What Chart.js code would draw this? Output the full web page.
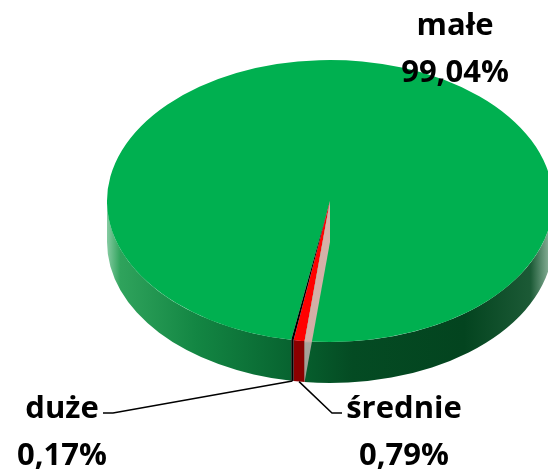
<!DOCTYPE html>
<html>
<head>
<meta charset="utf-8">
<script src="https://cdn.jsdelivr.net/npm/chart.js@4/dist/chart.umd.min.js"></script>
<style>
html, body { margin: 0; padding: 0; background: #fff; }
#wrap { width: 548px; height: 471px; position: relative; }
</style>
</head>
<body>
<div id="wrap"><canvas id="pie-chart"></canvas></div>
<script>
// udział przedsiębiorstw wg wielkości
var categories = ["małe", "średnie", "duże"];
var shares = [99.04, 0.79, 0.17];

var topColors = ['#00b050', '#ff0000', '#000000'];
var sideColors = ['green', '#8b0000', '#000000'];

// flattened disc on screen
var disc = { cx: 330, cy: 201, rx: 223, ry: 141, depth: 41 };

// where the data labels sit (centre x, first baseline) and where the leader starts
var labelPos = [
    { x: 455, y: 35, lead: null },
    { x: 404, y: 418, lead: [[342, 413], [332, 413]] },
    { x: 62, y: 418, lead: [[103, 413], [113, 413]] }
];

function pct(v) {
    return v.toFixed(2).replace('.', ',') + '%';
}

// parts of [s,e] lying in the front half (canvas angle 0..PI)
function frontPieces(s, e) {
    var out = [];
    for (var k = -2; k <= 2; k++) {
        var a = Math.max(s, k * 2 * Math.PI), b = Math.min(e, k * 2 * Math.PI + Math.PI);
        if (b > a) out.push([a, b]);
    }
    return out;
}

var pie3d = {
    id: 'pie3d',
    beforeDatasetsDraw: function(chart) {
        var ctx = chart.ctx;
        var arcs = chart.getDatasetMeta(0).data;
        var g = ctx.createLinearGradient(disc.cx - disc.rx, 0, disc.cx + disc.rx, 0);
        g.addColorStop(0, '#86cba2');
        g.addColorStop(0.03, '#2fa35c');
        g.addColorStop(0.2, '#138643');
        g.addColorStop(0.42, '#07622f');
        g.addColorStop(0.55, '#044b23');
        g.addColorStop(0.8, '#03441f');
        g.addColorStop(0.95, '#1c5a36');
        g.addColorStop(1, '#9cc0aa');

        arcs.forEach(function(arc, i) {
            ctx.fillStyle = sideColors[i] === 'green' ? g : sideColors[i];
            frontPieces(arc.startAngle, arc.endAngle).forEach(function(p) {
                ctx.beginPath();
                ctx.ellipse(disc.cx, disc.cy, disc.rx, disc.ry, 0, p[0], p[1]);
                ctx.ellipse(disc.cx, disc.cy + disc.depth, disc.rx, disc.ry, 0, p[1], p[0], true);
                ctx.closePath();
                ctx.fill();
            });
        });

        // squash the library's round pie onto the disc top
        var a0 = arcs[0];
        ctx.save();
        ctx.translate(disc.cx, disc.cy);
        ctx.scale(disc.rx / a0.outerRadius, disc.ry / a0.outerRadius);
        ctx.translate(-a0.x, -a0.y);
    },
    afterDatasetsDraw: function(chart) {
        var ctx = chart.ctx;
        ctx.restore();
        // lit cut wall at the start of the red slice (Excel shows it)
        var arc = chart.getDatasetMeta(0).data[1];
        var a = arc.startAngle;
        var rx = disc.cx + disc.rx * Math.cos(a), ry = disc.cy + disc.ry * Math.sin(a);
        var wg = ctx.createLinearGradient(0, disc.cy, 0, ry + disc.depth);
        var k = (ry - disc.cy) / (ry + disc.depth - disc.cy);
        wg.addColorStop(0, '#d8b2aa');
        wg.addColorStop(k, '#d2aea6');
        wg.addColorStop(Math.min(1, k + 0.01), '#a9a49c');
        wg.addColorStop(1, '#9c9c94');
        ctx.fillStyle = wg;
        ctx.beginPath();
        ctx.moveTo(disc.cx, disc.cy);
        ctx.lineTo(rx, ry);
        ctx.lineTo(rx, ry + disc.depth);
        ctx.lineTo(disc.cx, disc.cy + disc.depth);
        ctx.closePath();
        ctx.fill();
    },
    afterDraw: function(chart) {
        var ctx = chart.ctx;
        var arcs = chart.getDatasetMeta(0).data;
        ctx.save();
        ctx.strokeStyle = '#000';
        ctx.lineWidth = 1.5;
        arcs.forEach(function(arc, i) {
            var lp = labelPos[i];
            if (lp.lead) {
                var mid = (arc.startAngle + arc.endAngle) / 2;
                var px = disc.cx + disc.rx * Math.cos(mid);
                var py = disc.cy + disc.depth + disc.ry * Math.sin(mid);
                ctx.beginPath();
                ctx.moveTo(lp.lead[0][0], lp.lead[0][1]);
                ctx.lineTo(lp.lead[1][0], lp.lead[1][1]);
                ctx.lineTo(px, py);
                ctx.stroke();
            }
            ctx.fillStyle = '#000';
            ctx.font = 'bold 31px "Open Sans"';
            ctx.textAlign = 'center';
            ctx.textBaseline = 'alphabetic';
            ctx.fillText(categories[i], lp.x, lp.y);
            ctx.fillText(pct(shares[i]), lp.x, lp.y + 47);
        });
        ctx.restore();
    }
};

var ctx = document.getElementById('pie-chart');

var pieChart = new Chart(ctx, {
    type: 'pie',
    data: {
        labels: categories,
        datasets: [
            {
                data: shares,
                backgroundColor: topColors,
                borderWidth: 0,
                clip: false
            }
        ]
    },
    options: {
        responsive: true,
        maintainAspectRatio: false,
        animation: false,
        events: [],
        rotation: 190,
        layout: { padding: 0 },
        plugins: {
            legend: { display: false },
            tooltip: { enabled: false }
        }
    },
    plugins: [pie3d]
});
</script>
</body>
</html>
